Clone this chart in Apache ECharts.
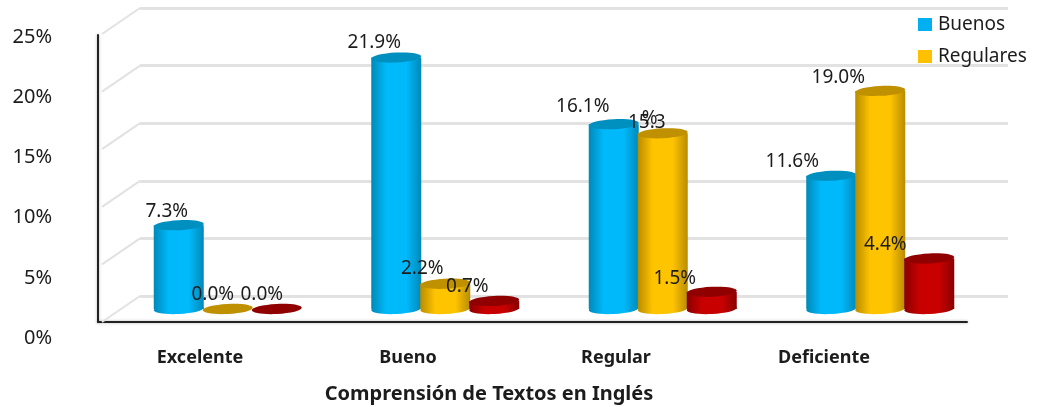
<!DOCTYPE html>
<html>
<head>
<meta charset="utf-8">
<style>
  html, body { margin: 0; background: #fff; }
  #main { width: 1040px; height: 407px; }
</style>
<script src="https://cdn.jsdelivr.net/npm/echarts@6/dist/echarts.min.js"></script>
</head>
<body>
<div id="main"></div>
<script>
const categories = ['Excelente', 'Bueno', 'Regular', 'Deficiente'];
const buenos = [7.3, 21.9, 16.1, 11.6];
const regulares = [0.0, 2.2, 15.3, 19.0];
const malos = [0.0, 0.7, 1.5, 4.4];
const ticks = [0, 5, 10, 15, 20, 25];

// label shift from the top of each cylinder, placed by hand in the original
const buenosShift = [[-12, -14], [-22, -15], [-31, -18], [-39, -14]];
const regularesShift = [[-15, -14], [-23, -15], [-16, -11], [-42, -13]];
const malosShift = [[-15, -14], [-27, -14], [-37, -13], [-44, -14]];

const font = '"Noto Sans", sans-serif';
const textColor = '#1c1c1c';

function cylinder(offset, side, edge, top, shifts) {
  return function (params, api) {
    const i = api.value(0);
    const value = api.value(1);
    const p = api.coord([i, value]);
    const base = api.coord([i, 0]);
    const x = p[0] + offset;
    const rx = 25;
    const ry = 5;
    const fill = {
      type: 'linear', x: 0, y: 0, x2: 1, y2: 0,
      colorStops: [
        { offset: 0, color: edge },
        { offset: 0.3, color: side },
        { offset: 0.7, color: side },
        { offset: 1, color: edge }
      ]
    };
    const shift = shifts[i];
    const children = [];
    if (value > 0) {
      children.push({
        type: 'ellipse', shape: { cx: x, cy: base[1], rx: rx, ry: ry }, style: { fill: fill },
        originX: x, originY: base[1], rotation: 0.05
      });
      children.push({
        type: 'rect', shape: { x: x - rx, y: p[1], width: rx * 2, height: base[1] - p[1] }, style: { fill: fill }
      });
    }
    children.push({
      type: 'ellipse', shape: { cx: x, cy: p[1], rx: rx, ry: ry }, style: { fill: top },
      originX: x, originY: p[1], rotation: 0.05
    });
    // the 15.3% label is garbled in the source, its sign sits on top of the number
    const garbled = value === 15.3;
    children.push({
      type: 'text',
      z2: 10,
      style: {
        x: x + shift[0], y: p[1] + shift[1],
        text: garbled ? value.toFixed(1) : value.toFixed(1) + '%',
        font: '19px ' + font, fill: textColor, align: 'center', verticalAlign: 'middle'
      }
    });
    if (garbled) {
      children.push({
        type: 'text',
        z2: 10,
        style: {
          x: x + shift[0] + 3, y: p[1] + shift[1] - 4,
          text: '%', font: '19px ' + font, fill: textColor, align: 'center', verticalAlign: 'middle'
        }
      });
    }
    return { type: 'group', children: children };
  };
}

function connector(params, api) {
  const p = api.coord([0, api.value(0)]);
  return {
    type: 'line',
    shape: { x1: p[0], y1: p[1], x2: p[0] - 38, y2: p[1] + 26 },
    style: { stroke: '#e2e2e2', lineWidth: 2 }
  };
}

function cylinderSeries(name, values, renderItem, color, z) {
  return {
    name: name,
    type: 'custom',
    xAxisIndex: 2,
    yAxisIndex: 2,
    z: z,
    itemStyle: { color: color },
    encode: { x: 0, y: 1 },
    data: values.map((v, i) => [i, v]),
    renderItem: renderItem
  };
}

const myChart = echarts.init(document.getElementById('main'), null, { renderer: 'canvas' });
myChart.setOption({
  backgroundColor: '#fff',
  animation: false,
  textStyle: { fontFamily: font, color: textColor },
  title: {
    text: 'Comprensión de Textos en Inglés',
    left: 484,
    top: 379,
    textAlign: 'center',
    textStyle: { fontFamily: font, fontSize: 20, fontWeight: 'bold', color: textColor }
  },
  legend: {
    data: ['Buenos', 'Regulares'],
    orient: 'vertical',
    left: 918,
    top: 15,
    padding: 0,
    itemWidth: 14,
    itemHeight: 13,
    itemGap: 13,
    icon: 'rect',
    textStyle: { fontFamily: font, fontSize: 19, color: textColor, padding: [0, 0, 0, 1] }
  },
  grid: [
    { left: 140, top: 8, width: 868, height: 288 },
    { left: 98, top: 35, width: 869, height: 287 },
    { left: 119, top: 22, width: 870, height: 287 },
    { left: 96, top: 37, width: 832, height: 301 }
  ],
  xAxis: [
    { gridIndex: 0, type: 'value', min: 0, max: 1, show: false },
    {
      gridIndex: 1, type: 'category', data: categories,
      axisTick: { show: false }, axisLabel: { show: false },
      axisLine: { lineStyle: { color: '#222', width: 2, shadowColor: 'rgba(0,0,0,0.3)', shadowBlur: 3 } }
    },
    { gridIndex: 2, type: 'category', data: categories, show: false },
    {
      gridIndex: 3, type: 'category', data: categories,
      axisLine: { show: false }, axisTick: { show: false },
      axisLabel: { margin: 11, fontFamily: font, fontSize: 18, fontWeight: 'bold', color: textColor }
    }
  ],
  yAxis: [
    {
      gridIndex: 0, type: 'value', min: 0, max: 25, interval: 5,
      axisLine: { show: false }, axisTick: { show: false }, axisLabel: { show: false },
      splitLine: { lineStyle: { color: '#e2e2e2', width: 3 } }
    },
    {
      gridIndex: 1, type: 'value', min: 0, max: 25, interval: 25,
      axisTick: { show: false }, axisLabel: { show: false }, splitLine: { show: false },
      axisLine: { show: true, lineStyle: { color: '#222', width: 2, shadowColor: 'rgba(0,0,0,0.3)', shadowBlur: 3 } }
    },
    { gridIndex: 2, type: 'value', min: 0, max: 25, show: false },
    {
      gridIndex: 3, type: 'value', min: 0, max: 25, interval: 5,
      axisLine: { show: false }, axisTick: { show: false }, splitLine: { show: false },
      axisLabel: { margin: 44, formatter: '{value}%', fontFamily: font, fontSize: 20, color: textColor }
    }
  ],
  series: [
    {
      type: 'custom',
      xAxisIndex: 0,
      yAxisIndex: 0,
      z: 1,
      encode: { y: 0 },
      data: ticks.map(v => [v]),
      renderItem: connector
    },
    cylinderSeries('Buenos', buenos, cylinder(-49, '#00b9fb', '#0089b8', '#0090c0', buenosShift), '#00b0f0', 3),
    cylinderSeries('Regulares', regulares, cylinder(0, '#ffc400', '#b88c00', '#bf9000', regularesShift), '#ffc000', 4),
    cylinderSeries('Malos', malos, cylinder(49, '#c80000', '#8a0000', '#900000', malosShift), '#c00000', 5)
  ]
});
</script>
</body>
</html>
